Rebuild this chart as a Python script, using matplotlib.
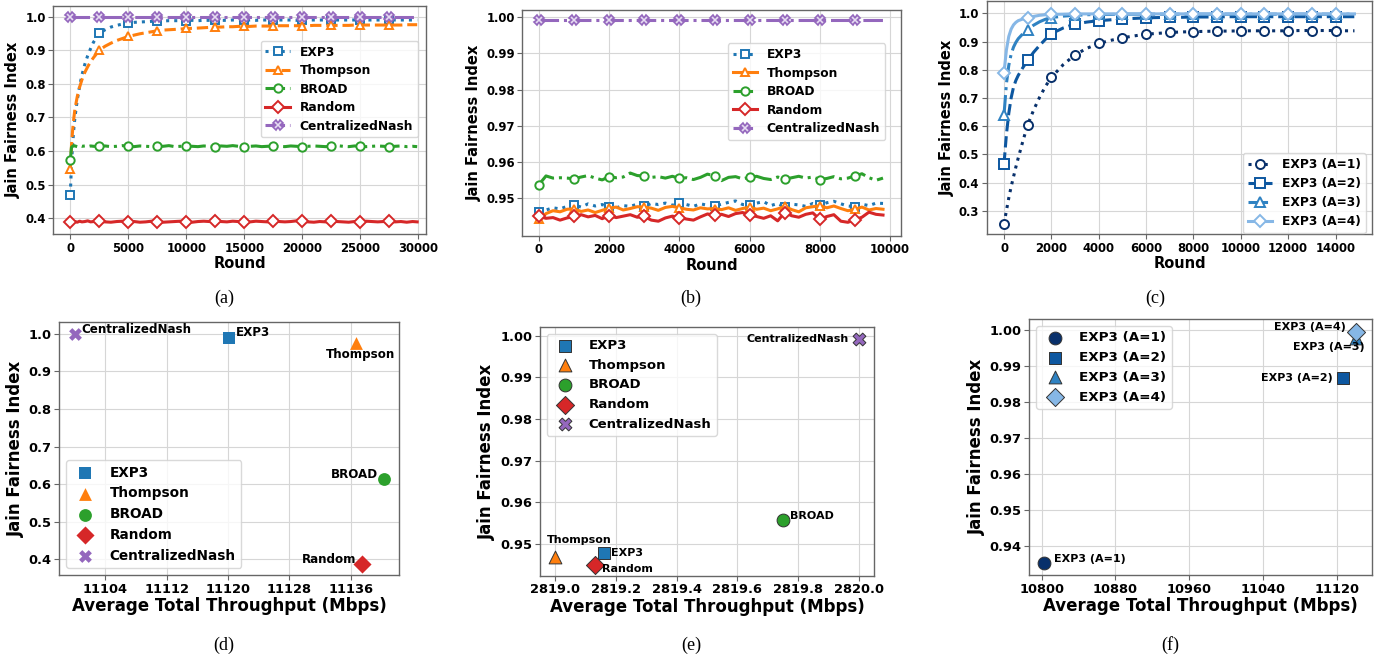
import numpy as np
import matplotlib
matplotlib.use("Agg")
import matplotlib.pyplot as plt
from matplotlib.ticker import FormatStrFormatter


# ─────────────────────────────────────────────
# data
# ─────────────────────────────────────────────

ALGOS = ["EXP3", "Thompson", "BROAD", "Random", "CentralizedNash"]
EXP3_A = ["EXP3 (A=1)", "EXP3 (A=2)", "EXP3 (A=3)", "EXP3 (A=4)"]

# (a) long run, 30000 rounds
rounds_a = [0, 100, 200, 300, 400, 600, 800, 1000, 1250, 1500, 1750, 2000] + list(range(2500, 30000, 500)) + [29900]
exp3_a = [0.470, 0.560, 0.620, 0.665, 0.700, 0.752, 0.792, 0.826, 0.858, 0.884, 0.905, 0.924,
          0.950, 0.961, 0.969, 0.974, 0.978, 0.981, 0.983, 0.984, 0.985, 0.986,
          0.987, 0.987, 0.988, 0.988, 0.988, 0.988, 0.989, 0.988, 0.989, 0.989,
          0.989, 0.989, 0.989, 0.990, 0.989, 0.989, 0.990, 0.989, 0.990, 0.990,
          0.989, 0.990, 0.990, 0.990, 0.989, 0.990, 0.990, 0.990, 0.990, 0.990,
          0.989, 0.990, 0.990, 0.990, 0.990, 0.990, 0.990, 0.990, 0.990, 0.990,
          0.990, 0.990, 0.990, 0.990, 0.990, 0.990]
thompson_a = [0.545, 0.615, 0.662, 0.697, 0.725, 0.762, 0.790, 0.812, 0.834, 0.851, 0.866, 0.878,
              0.900, 0.912, 0.921, 0.929, 0.935, 0.941, 0.945, 0.949, 0.952, 0.955,
              0.958, 0.960, 0.961, 0.962, 0.963, 0.965, 0.965, 0.966, 0.967, 0.968,
              0.969, 0.969, 0.970, 0.970, 0.971, 0.971, 0.971, 0.972, 0.972, 0.972,
              0.972, 0.973, 0.973, 0.973, 0.973, 0.973, 0.973, 0.974, 0.974, 0.974,
              0.974, 0.974, 0.974, 0.974, 0.975, 0.975, 0.975, 0.975, 0.975, 0.975,
              0.975, 0.975, 0.975, 0.976, 0.976, 0.976]
broad_a = [0.572, 0.611, 0.614, 0.616, 0.615, 0.613, 0.616, 0.614, 0.615, 0.613, 0.615, 0.614,
           0.614, 0.615, 0.613, 0.614, 0.616, 0.614, 0.613, 0.615, 0.614, 0.613,
           0.615, 0.614, 0.616, 0.613, 0.614, 0.615, 0.614, 0.613, 0.615, 0.614,
           0.613, 0.615, 0.614, 0.616, 0.614, 0.613, 0.614, 0.615, 0.613, 0.614,
           0.615, 0.614, 0.613, 0.615, 0.614, 0.613, 0.614, 0.615, 0.614, 0.613,
           0.614, 0.616, 0.614, 0.613, 0.615, 0.614, 0.613, 0.614, 0.615, 0.614,
           0.613, 0.614, 0.615, 0.613, 0.614, 0.613]
random_a = [0.390, 0.388, 0.391, 0.389, 0.390, 0.388, 0.391, 0.389, 0.390, 0.392, 0.389, 0.390,
            0.391, 0.389, 0.388, 0.390, 0.391, 0.389, 0.390, 0.388, 0.389, 0.391,
            0.390, 0.388, 0.389, 0.390, 0.391, 0.389, 0.388, 0.390, 0.391, 0.390,
            0.392, 0.390, 0.389, 0.391, 0.390, 0.388, 0.389, 0.391, 0.390, 0.389,
            0.391, 0.390, 0.389, 0.390, 0.392, 0.391, 0.389, 0.388, 0.390, 0.389,
            0.391, 0.390, 0.389, 0.388, 0.390, 0.389, 0.391, 0.390, 0.389, 0.390,
            0.391, 0.389, 0.390, 0.388, 0.390, 0.389]
nash_rounds_a = [0, 2500, 5000, 7500, 10000, 12500, 15000, 17500, 20000, 22500, 25000, 27500, 29900]
nash_a = [1.0, 1.0, 1.0, 1.0, 1.0, 1.0, 1.0, 1.0, 1.0, 1.0, 1.0, 1.0, 1.0]

# (b) 10000 rounds, zoomed fairness
rounds_b = list(range(0, 9801, 200))
exp3_b = [0.9462, 0.9468, 0.9474, 0.9471, 0.9478, 0.9482, 0.9476, 0.9485, 0.9479, 0.9483,
          0.9475, 0.9474, 0.9480, 0.9478, 0.9484, 0.9478, 0.9486, 0.9483, 0.9487, 0.9481,
          0.9488, 0.9483, 0.9478, 0.9485, 0.9481, 0.9479, 0.9484, 0.9489, 0.9493, 0.9483,
          0.9483, 0.9487, 0.9491, 0.9480, 0.9486, 0.9476, 0.9484, 0.9482, 0.9478, 0.9486,
          0.9481, 0.9488, 0.9492, 0.9485, 0.9479, 0.9477, 0.9484, 0.9480, 0.9487, 0.9486]
thompson_b = [0.9443, 0.9458, 0.9466, 0.9463, 0.9470, 0.9471, 0.9464, 0.9468, 0.9461, 0.9467,
              0.9473, 0.9476, 0.9468, 0.9472, 0.9477, 0.9476, 0.9473, 0.9467, 0.9475, 0.9478,
              0.9474, 0.9470, 0.9468, 0.9474, 0.9471, 0.9472, 0.9469, 0.9474, 0.9467, 0.9472,
              0.9476, 0.9470, 0.9473, 0.9466, 0.9471, 0.9478, 0.9469, 0.9463, 0.9474, 0.9477,
              0.9480, 0.9474, 0.9479, 0.9472, 0.9466, 0.9470, 0.9476, 0.9468, 0.9472, 0.9470]
broad_b = [0.9538, 0.9562, 0.9556, 0.9557, 0.9556, 0.9554, 0.9559, 0.9563, 0.9556, 0.9551,
           0.9560, 0.9557, 0.9559, 0.9570, 0.9563, 0.9562, 0.9558, 0.9560, 0.9556, 0.9561,
           0.9555, 0.9557, 0.9552, 0.9558, 0.9567, 0.9562, 0.9549, 0.9558, 0.9560, 0.9554,
           0.9558, 0.9561, 0.9555, 0.9552, 0.9559, 0.9553, 0.9557, 0.9561, 0.9556, 0.9559,
           0.9552, 0.9555, 0.9560, 0.9554, 0.9556, 0.9562, 0.9568, 0.9557, 0.9550, 0.9556]
random_b = [0.9450, 0.9445, 0.9447, 0.9440, 0.9446, 0.9450, 0.9455, 0.9449, 0.9453, 0.9444,
            0.9452, 0.9447, 0.9451, 0.9455, 0.9448, 0.9450, 0.9440, 0.9437, 0.9446, 0.9451,
            0.9447, 0.9443, 0.9440, 0.9449, 0.9457, 0.9454, 0.9456, 0.9450, 0.9458, 0.9461,
            0.9454, 0.9450, 0.9445, 0.9452, 0.9438, 0.9461, 0.9452, 0.9448, 0.9456, 0.9460,
            0.9442, 0.9450, 0.9455, 0.9437, 0.9434, 0.9441, 0.9448, 0.9462, 0.9456, 0.9454]
nash_rounds_b = [0, 1000, 2000, 3000, 4000, 5000, 6000, 7000, 8000, 9000, 9800]
nash_b = [0.9993, 0.9993, 0.9993, 0.9993, 0.9993, 0.9993, 0.9993, 0.9993, 0.9993, 0.9993, 0.9993]

# (c) EXP3 with different A
rounds_c = [0, 100, 200, 300, 400, 500, 600, 800, 1000, 1250, 1500, 1750] + list(range(2000, 15000, 500)) + [14800]
a1_c = [0.253, 0.300, 0.345, 0.385, 0.420, 0.455, 0.487, 0.548, 0.605, 0.657, 0.702, 0.741,
        0.773, 0.818, 0.853, 0.876, 0.893, 0.904, 0.913, 0.920, 0.926, 0.929,
        0.932, 0.934, 0.935, 0.936, 0.937, 0.937, 0.938, 0.938, 0.938, 0.938,
        0.938, 0.939, 0.939, 0.939, 0.939, 0.938, 0.938]
a2_c = [0.467, 0.570, 0.645, 0.700, 0.738, 0.762, 0.780, 0.808, 0.833, 0.862, 0.886, 0.908,
        0.928, 0.948, 0.962, 0.969, 0.974, 0.977, 0.980, 0.982, 0.984, 0.985,
        0.986, 0.986, 0.987, 0.987, 0.987, 0.988, 0.988, 0.988, 0.988, 0.988,
        0.988, 0.988, 0.988, 0.988, 0.988, 0.988, 0.988]
a3_c = [0.641, 0.750, 0.815, 0.855, 0.880, 0.897, 0.910, 0.928, 0.942, 0.958, 0.970, 0.979,
        0.985, 0.990, 0.993, 0.995, 0.996, 0.996, 0.997, 0.997, 0.997, 0.997,
        0.997, 0.997, 0.997, 0.997, 0.997, 0.997, 0.997, 0.997, 0.997, 0.997,
        0.997, 0.997, 0.997, 0.997, 0.997, 0.997, 0.997]
a4_c = [0.790, 0.870, 0.918, 0.944, 0.959, 0.968, 0.974, 0.980, 0.984, 0.989, 0.993, 0.995,
        0.996, 0.997, 0.998, 0.998, 0.998, 0.998, 0.998, 0.998, 0.998, 0.998,
        0.998, 0.998, 0.998, 0.998, 0.998, 0.998, 0.998, 0.998, 0.998, 0.998,
        0.998, 0.998, 0.998, 0.998, 0.998, 0.998, 0.998]

# (d)(e)(f) throughput vs fairness
thr_d = [11120.1, 11136.7, 11140.3, 11137.5, 11100.0]
fair_d = [0.988, 0.975, 0.614, 0.388, 1.000]
thr_e = [2819.16, 2819.00, 2819.75, 2819.13, 2820.00]
fair_e = [0.9478, 0.9469, 0.9558, 0.9450, 0.9992]
thr_f = [10802.9, 11126.5, 11141.0, 11141.0]
fair_f = [0.9353, 0.9867, 0.9976, 0.9995]

# tick labels
xt_a = [0, 5000, 10000, 15000, 20000, 25000, 30000]
yt_a = [0.4, 0.5, 0.6, 0.7, 0.8, 0.9, 1.0]
xt_b = [0, 2000, 4000, 6000, 8000, 10000]
yt_b = [0.95, 0.96, 0.97, 0.98, 0.99, 1.00]
xt_c = [0, 2000, 4000, 6000, 8000, 10000, 12000, 14000]
yt_c = [0.3, 0.4, 0.5, 0.6, 0.7, 0.8, 0.9, 1.0]
xt_d = [11104, 11112, 11120, 11128, 11136]
yt_d = [0.4, 0.5, 0.6, 0.7, 0.8, 0.9, 1.0]
xt_e = [2819.0, 2819.2, 2819.4, 2819.6, 2819.8, 2820.0]
yt_e = [0.95, 0.96, 0.97, 0.98, 0.99, 1.00]
xt_f = [10800, 10880, 10960, 11040, 11120]
yt_f = [0.94, 0.95, 0.96, 0.97, 0.98, 0.99, 1.00]


# ─────────────────────────────────────────────
# style
# ─────────────────────────────────────────────

PLOT_STYLE = {
    "font.family": ["DejaVu Sans"],
    "font.weight": "bold",
    "axes.labelweight": "bold",
    "axes.edgecolor": "#666666",
    "axes.linewidth": 1.0,
    "grid.color": "#d6d6d6",
    "grid.linewidth": 0.8,
    "xtick.color": "#666666",
    "ytick.color": "#666666",
    "xtick.labelcolor": "black",
    "ytick.labelcolor": "black",
    "legend.edgecolor": "#d0d0d0",
}

TAB = ["#1f77b4", "#ff7f0e", "#2ca02c", "#d62728", "#9467bd"]
BLUES = ["#08306b", "#0d57a0", "#2f82c2", "#86b7e6"]
MARKERS = ["s", "^", "o", "D", "X"]

W, H = 1383, 660


def box(x0, y0, x1, y1):
    """pixel box (top-left origin) -> figure fraction rect"""
    return [x0 / W, 1 - y1 / H, (x1 - x0) / W, (y1 - y0) / H]


def finish(ax, xt, yt, yfmt, xlim, ylim, xlabel, lab_fs, tick_fs, xfmt=None):
    ax.set_xticks(xt)
    ax.set_yticks(yt)
    ax.yaxis.set_major_formatter(FormatStrFormatter(yfmt))
    if xfmt:
        ax.xaxis.set_major_formatter(FormatStrFormatter(xfmt))
    ax.set_xlim(*xlim)
    ax.set_ylim(*ylim)
    ax.set_xlabel(xlabel, fontsize=lab_fs, labelpad=1)
    ax.set_ylabel("Jain Fairness Index", fontsize=lab_fs, labelpad=3)
    ax.tick_params(labelsize=tick_fs, pad=2)
    ax.grid(True)


def marks(rounds, step):
    return [i for i, r in enumerate(rounds) if r % step == 0]


with plt.rc_context(PLOT_STYLE):
    fig = plt.figure(figsize=(W / 100, H / 100), dpi=100)

    # ---------- (a) ----------
    ax = fig.add_axes(box(53.3, 6, 426, 234.3))
    ls_a = [":", "--", "-.", "-", "-."]
    ys_a = [exp3_a, thompson_a, broad_a, random_a]
    for i in range(4):
        ax.plot(rounds_a, ys_a[i], ls=ls_a[i], color=TAB[i], lw=2.2, marker=MARKERS[i],
                ms=6, mfc="white", mew=1.4, markevery=marks(rounds_a, 2500), label=ALGOS[i])
    ax.plot(nash_rounds_a, nash_a, ls="-.", color=TAB[4], lw=2.2, marker="X", ms=7,
            mfc="#e6dcf2", mew=1.2, markevery=list(range(12)), label=ALGOS[4])
    finish(ax, xt_a, yt_a, "%.1f", (-1466, 30661), (0.352, 1.0317), "Round", 10.5, 8.4)
    ax.legend(loc="upper right", bbox_to_anchor=(0.995, 0.875), fontsize=8.8, labelspacing=0.45)

    # ---------- (b) ----------
    ax = fig.add_axes(box(522.3, 10, 900.7, 235.7))
    ls_b = [":", "-", "-.", "-", "-."]
    ys_b = [exp3_b, thompson_b, broad_b, random_b]
    for i in range(4):
        ax.plot(rounds_b, ys_b[i], ls=ls_b[i], color=TAB[i], lw=2.2, marker=MARKERS[i],
                ms=6, mfc="white", mew=1.4, markevery=marks(rounds_b, 1000), label=ALGOS[i])
    ax.plot(nash_rounds_b, nash_b, ls="-.", color=TAB[4], lw=2.2, marker="X", ms=7,
            mfc="#e6dcf2", mew=1.2, markevery=list(range(10)), label=ALGOS[4])
    finish(ax, xt_b, yt_b, "%.2f", (-475, 10304), (0.9397, 1.002), "Round", 10.5, 8.4)
    ax.legend(loc="upper right", bbox_to_anchor=(0.975, 0.88), fontsize=8.8, labelspacing=0.45)

    # ---------- (c) ----------
    ax = fig.add_axes(box(986.7, 1, 1372.3, 234.3))
    ls_c = [":", "--", "-.", "-"]
    mk_c = ["o", "s", "^", "D"]
    ys_c = [a1_c, a2_c, a3_c, a4_c]
    for i in range(4):
        ax.plot(rounds_c, ys_c[i], ls=ls_c[i], color=BLUES[i], lw=2.2, marker=mk_c[i],
                ms=6.5, mfc="white", mew=1.4, markevery=marks(rounds_c, 1000), label=EXP3_A[i])
    finish(ax, xt_c, yt_c, "%.1f", (-732, 15553), (0.2163, 1.0437), "Round", 10.5, 8.4)
    ax.legend(loc="lower right", bbox_to_anchor=(0.983, 0.004), borderaxespad=0, fontsize=8.8)

    # ---------- (d) ----------
    ax = fig.add_axes(box(59.3, 322.3, 399, 575))
    for i in range(5):
        ax.scatter(thr_d[i], fair_d[i], s=85, marker=MARKERS[i], color=TAB[i],
                   linewidths=0, label=ALGOS[i], zorder=3)
    offs_d = [(5, 4, "left"), (3, -8, "center"), (-4, 3, "right"), (-4, 3, "right"), (5, 3, "left")]
    for i in range(5):
        ax.annotate(ALGOS[i], (thr_d[i], fair_d[i]), xytext=offs_d[i][:2], textcoords="offset points",
                    ha=offs_d[i][2], va="center", fontsize=8.6, fontweight="bold")
    finish(ax, xt_d, yt_d, "%.1f", (11098.0, 11142.3), (0.358, 1.031),
           "Average Total Throughput (Mbps)", 12, 9.4)
    ax.legend(loc="lower left", fontsize=9.8)

    # ---------- (e) ----------
    ax = fig.add_axes(box(540, 327.3, 874, 575.7))
    for i in range(5):
        ax.scatter(thr_e[i], fair_e[i], s=85, marker=MARKERS[i], color=TAB[i],
                   edgecolors="#333333", linewidths=0.7, label=ALGOS[i], zorder=3)
    offs_e = [(5, 0, "left"), (-6, 12, "left"), (5, 3, "left"), (5, -3, "left"), (-7, 0, "right")]
    for i in range(5):
        ax.annotate(ALGOS[i], (thr_e[i], fair_e[i]), xytext=offs_e[i][:2], textcoords="offset points",
                    ha=offs_e[i][2], va="center", fontsize=8, fontweight="bold")
    finish(ax, xt_e, yt_e, "%.2f", (2818.95, 2820.05), (0.9424, 1.002),
           "Average Total Throughput (Mbps)", 12, 9.4, xfmt="%.1f")
    ax.legend(loc="upper left", fontsize=9.5)

    # ---------- (f) ----------
    ax = fig.add_axes(box(1029.3, 319.3, 1371.7, 575))
    mk_f = ["o", "s", "^", "D"]
    for i in range(4):
        ax.scatter(thr_f[i], fair_f[i], s=85, marker=mk_f[i], color=BLUES[i],
                   edgecolors="#333333", linewidths=0.7, label=EXP3_A[i], zorder=3)
    offs_f = [(7, 3, "left"), (-7, 0, "right"), (6.5, -6.5, "right"), (-7, 3, "right")]
    for i in range(4):
        ax.annotate(EXP3_A[i], (thr_f[i], fair_f[i]), xytext=offs_f[i][:2], textcoords="offset points",
                    ha=offs_f[i][2], va="center", fontsize=8, fontweight="bold")
    finish(ax, xt_f, yt_f, "%.2f", (10786.6, 11158.0), (0.9321, 1.0029),
           "Average Total Throughput (Mbps)", 12, 9.4)
    ax.legend(loc="upper left", fontsize=9.7)

    # sub-captions
    caps = [("(a)", 224, 298), ("(b)", 691, 298), ("(c)", 1155, 298),
            ("(d)", 224, 645), ("(e)", 691, 645), ("(f)", 1170, 645)]
    for txt, x, y in caps:
        fig.text(x / W, 1 - y / H, txt, ha="center", va="center",
                 family="Liberation Serif", fontweight="normal", fontsize=13)

    fig.savefig("out.png", dpi=100)
